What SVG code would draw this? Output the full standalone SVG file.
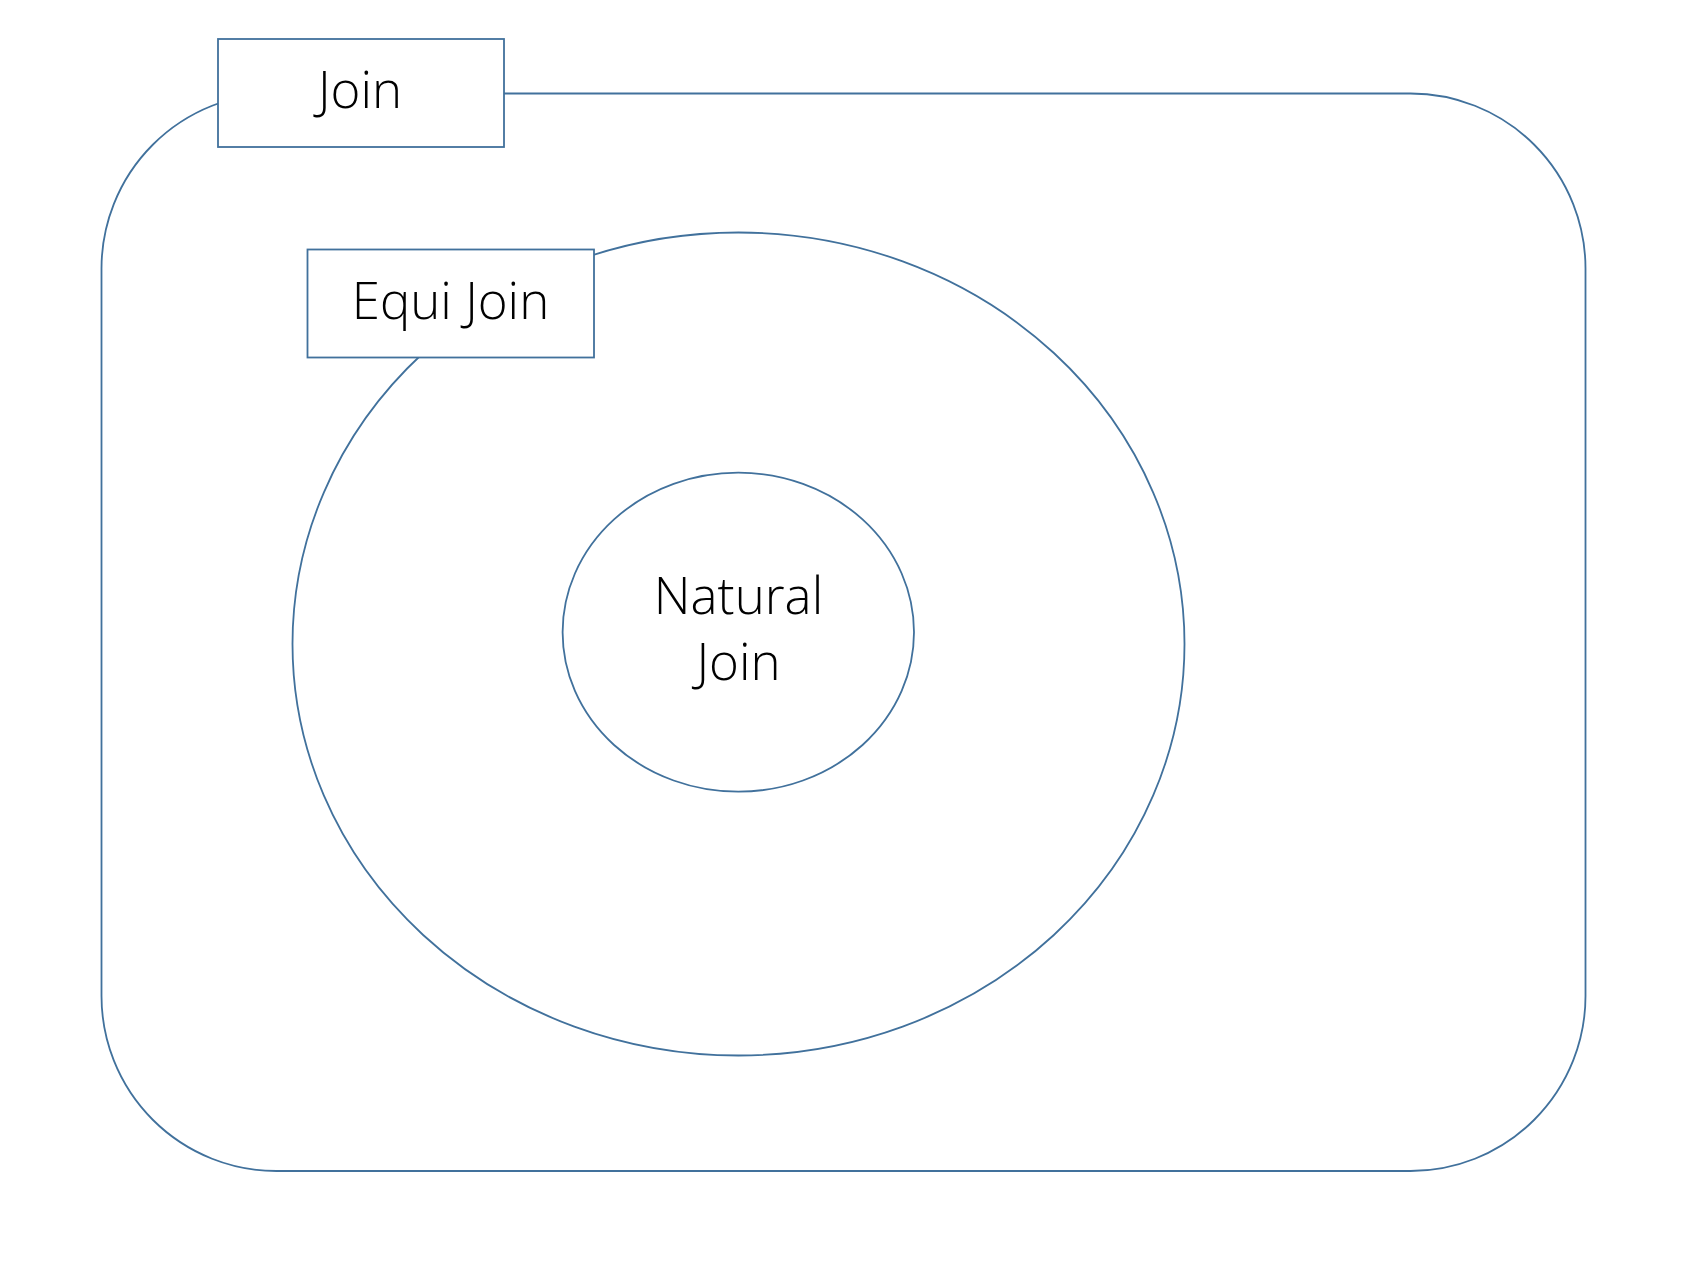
<svg xmlns="http://www.w3.org/2000/svg" width="1687" height="1265" viewBox="0 0 1687 1265">
<style>
.s{fill:#fff;stroke:#41719C;stroke-width:1.8}
.t{font-family:"Open Sans","Liberation Sans",sans-serif;font-weight:300;fill:#000;text-anchor:middle;font-size:51px}
</style>
<rect width="1687" height="1265" fill="#fff"/>
<g id="join-set"><rect class="s" x="101.5" y="93.5" width="1484" height="1077.5" rx="175" ry="175"/></g>
<g id="equi-set"><ellipse class="s" cx="738.5" cy="644" rx="446" ry="411.5"/></g>
<g id="natural"><ellipse class="s" cx="738.3" cy="632.2" rx="175.7" ry="159.5"/>
<text class="t" x="738.5" y="614">Natural</text><text class="t" x="738.5" y="680">Join</text></g>
<g id="join-label"><rect class="s" x="218" y="39" width="286" height="108"/><text class="t" x="360" y="108">Join</text></g>
<g id="equi-label"><rect class="s" x="307.5" y="249.5" width="286.5" height="108"/><text class="t" x="450.5" y="319">Equi Join</text></g>
<g id="connectors"/>
</svg>
